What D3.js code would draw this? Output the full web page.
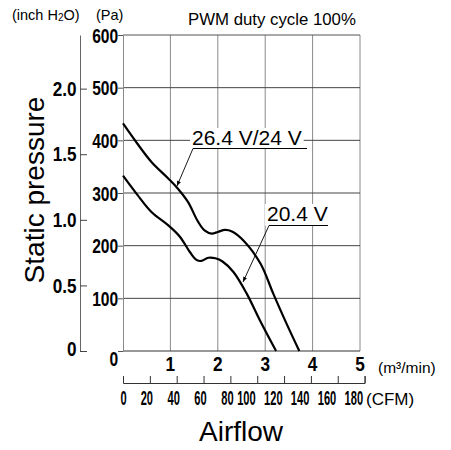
<!DOCTYPE html>
<html>
<head>
<meta charset="utf-8">
<script type="text/javascript" src="https://d3js.org/d3.v7.min.js"></script>
<style>
  body { margin: 0; background: #fff; }
  text { font-family: "Liberation Sans", Arial, sans-serif; fill: #000; }
  .num { font-family: "Liberation Sans", Arial, sans-serif; font-weight: bold; }
</style>
</head>
<body>
<script>

var svgwidth = 451;
var svgheight = 450;

// airflow (m3/min) and static pressure (Pa)
var flowHigh = [0, 0.3, 0.6, 0.95, 1.15, 1.37, 1.58, 1.72, 1.87, 2.0, 2.15, 2.3, 2.55, 2.9, 3.17, 3.45, 3.72];
var presHigh = [432, 394, 359, 328, 309, 283, 246, 229, 223, 226, 230, 227, 209, 166, 109, 52, 0];
var flowLow = [0, 0.3, 0.6, 0.95, 1.2, 1.41, 1.55, 1.65, 1.8, 1.95, 2.1, 2.33, 2.61, 2.89, 3.23];
var presLow = [333, 297, 264, 239, 217, 188, 173, 171, 177, 176, 170, 150, 109, 58, 0];

var paTicks = [0, 100, 200, 300, 400, 500, 600];
var inchTicks = [0, 0.5, 1.0, 1.5, 2.0];
var m3Ticks = [1, 2, 3, 4, 5];
var cfmTicks = [0, 20, 40, 60, 80, 100, 120, 140, 160, 180];

var PA_PER_INCH = 249.089;
var M3_PER_CFM = 0.0283168;

var x = d3.scaleLinear().domain([0, 5]).range([123, 360]);
var y = d3.scaleLinear().domain([0, 600]).range([351, 35]);
var yInch = d3.scaleLinear().domain([0, 600 / PA_PER_INCH]).range([351, 35]);
var xCfm = d3.scaleLinear().domain([0, 180]).range([123, x(180 * M3_PER_CFM)]);

var svg = d3.select("body")
  .append("svg")
  .attr("width", svgwidth)
  .attr("height", svgheight);

// grid
svg.append("g").selectAll("line")
  .data([1, 2, 3, 4, 5])
  .enter().append("line")
  .attr("x1", function(d){ return x(d); }).attr("x2", function(d){ return x(d); })
  .attr("y1", y(0)).attr("y2", y(600))
  .attr("stroke", "#8a8a8a").attr("stroke-width", 1);

svg.append("g").selectAll("line")
  .data([100, 200, 300, 400, 500])
  .enter().append("line")
  .attr("x1", x(0)).attr("x2", x(5))
  .attr("y1", function(d){ return y(d); }).attr("y2", function(d){ return y(d); })
  .attr("stroke", "#444").attr("stroke-width", 1);

svg.append("line").attr("x1", x(0)).attr("x2", x(5)).attr("y1", y(600)).attr("y2", y(600))
  .attr("stroke", "#555");
svg.append("line").attr("x1", x(0)).attr("x2", x(5)).attr("y1", y(0)).attr("y2", y(0))
  .attr("stroke", "#333");

// Pa axis
var paAxis = svg.append("g")
  .attr("transform", "translate(" + x(0) + ",0)")
  .call(d3.axisLeft(y).tickValues(paTicks).tickSize(5).tickPadding(4));
paAxis.select(".domain").attr("stroke", "#8a8a8a");
paAxis.selectAll(".tick line").attr("stroke", "#555");
paAxis.selectAll("text").attr("class", "num").style("font-size", "19.5px")
  .attr("dy", function(d){ return d === 0 ? "0.72em" : "0.36em"; })
  .attr("x", -6)
  .attr("transform", "scale(0.8,1)");

// inch H2O axis
var inchAxis = svg.append("g")
  .attr("transform", "translate(80,0)")
  .call(d3.axisRight(yInch).tickValues(inchTicks).tickSizeInner(7).tickSizeOuter(0)
    .tickFormat(function(d){ return d === 0 ? "0" : d3.format(".1f")(d); }));
inchAxis.select(".domain").attr("stroke", "#666");
inchAxis.selectAll(".tick line").attr("stroke", "#444");
inchAxis.selectAll("text").attr("class", "num").style("font-size", "19.5px")
  .attr("text-anchor", "end").attr("x", -4)
  .attr("dy", function(d){ return d === 0 ? "0.25em" : "0.34em"; })
  .attr("transform", "scale(0.88,1)");

// m3/min labels
svg.append("g").selectAll("text")
  .data(m3Ticks)
  .enter().append("text")
  .attr("class", "num")
  .attr("transform", function(d){ return "translate(" + x(d) + ",371) scale(0.82,1)"; })
  .attr("text-anchor", "middle")
  .style("font-size", "21px")
  .text(function(d){ return d; });

svg.append("text").attr("x", 378).attr("y", 373).style("font-size", "15.5px")
  .text("(m³/min)");

// CFM axis (labels sit a little left of their ticks, as in the original print)
var cfmAxis = svg.append("g")
  .attr("transform", "translate(0,383)")
  .call(d3.axisBottom(xCfm).tickValues(cfmTicks).tickSizeInner(-7).tickSizeOuter(-7).tickPadding(0));
cfmAxis.select(".domain").attr("stroke", "#333");
cfmAxis.selectAll(".tick line").attr("stroke", "#333");
cfmAxis.selectAll("text").attr("class", "num").style("font-size", "19.5px")
  .attr("x", 0).attr("y", 0).attr("dy", 0)
  .attr("text-anchor", function(d){ return d >= 100 ? "end" : "middle"; })
  .attr("transform", function(d){
    var dx = d === 0 ? 0 : (d >= 100 ? -2 : -3.5);
    return "translate(" + dx + ",22) scale(0.57,1)";
  });

svg.append("text").attr("x", 366).attr("y", 405).style("font-size", "17px")
  .text("(CFM)");

// curves
var line = d3.line()
  .x(function(d){ return x(d[0]); })
  .y(function(d){ return y(d[1]); })
  .curve(d3.curveCatmullRom.alpha(0.5));

svg.append("path")
  .datum(d3.zip(flowHigh, presHigh))
  .attr("d", line)
  .attr("fill", "none").attr("stroke", "#000").attr("stroke-width", 2.2);

svg.append("path")
  .datum(d3.zip(flowLow, presLow))
  .attr("d", line)
  .attr("fill", "none").attr("stroke", "#000").attr("stroke-width", 2.2);

// callouts
svg.append("defs").append("marker")
  .attr("id", "arr")
  .attr("viewBox", "0 0 10 10")
  .attr("refX", 10).attr("refY", 5)
  .attr("markerWidth", 7).attr("markerHeight", 5)
  .attr("markerUnits", "userSpaceOnUse")
  .attr("orient", "auto")
  .append("path").attr("d", "M0,1 L10,5 L0,9 Z").attr("fill", "#000");

function callout(label, tx, ty, x1, x2, ly, px, py) {
  var g = svg.append("g");
  var t = g.append("text").attr("x", tx).attr("y", ty).style("font-size", "21px").text(label);
  var bb = t.node().getBBox();
  g.insert("rect", "text").attr("x", bb.x - 2).attr("y", bb.y + 2).attr("width", bb.width + 4)
    .attr("height", ly - bb.y - 2).attr("fill", "#fff");
  g.append("line").attr("x1", x1).attr("x2", x2).attr("y1", ly).attr("y2", ly)
    .attr("stroke", "#000").attr("stroke-width", 1);
  g.append("line").attr("x1", x1).attr("y1", ly).attr("x2", px).attr("y2", py)
    .attr("stroke", "#000").attr("stroke-width", 0.9).attr("marker-end", "url(#arr)");
}

callout("26.4 V/24 V", 192, 145, 193, 307, 148.5, 177, 186);
callout("20.4 V", 267, 221, 269, 328, 225.5, 243, 282);

// titles
svg.append("text").attr("x", 12).attr("y", 20).style("font-size", "14.5px")
  .html('(inch H<tspan font-size="10px" dy="1">2</tspan><tspan dy="-1">O)</tspan>');
svg.append("text").attr("x", 96).attr("y", 20).style("font-size", "14.5px").text("(Pa)");
svg.append("text").attr("x", 188).attr("y", 25).style("font-size", "16.8px").text("PWM duty cycle 100%");

svg.append("text")
  .attr("transform", "translate(44,190) rotate(-90)")
  .attr("text-anchor", "middle")
  .style("font-size", "28px")
  .text("Static pressure");

svg.append("text")
  .attr("x", 241).attr("y", 441)
  .attr("text-anchor", "middle")
  .style("font-size", "28px")
  .text("Airflow");

</script>
</body>
</html>
